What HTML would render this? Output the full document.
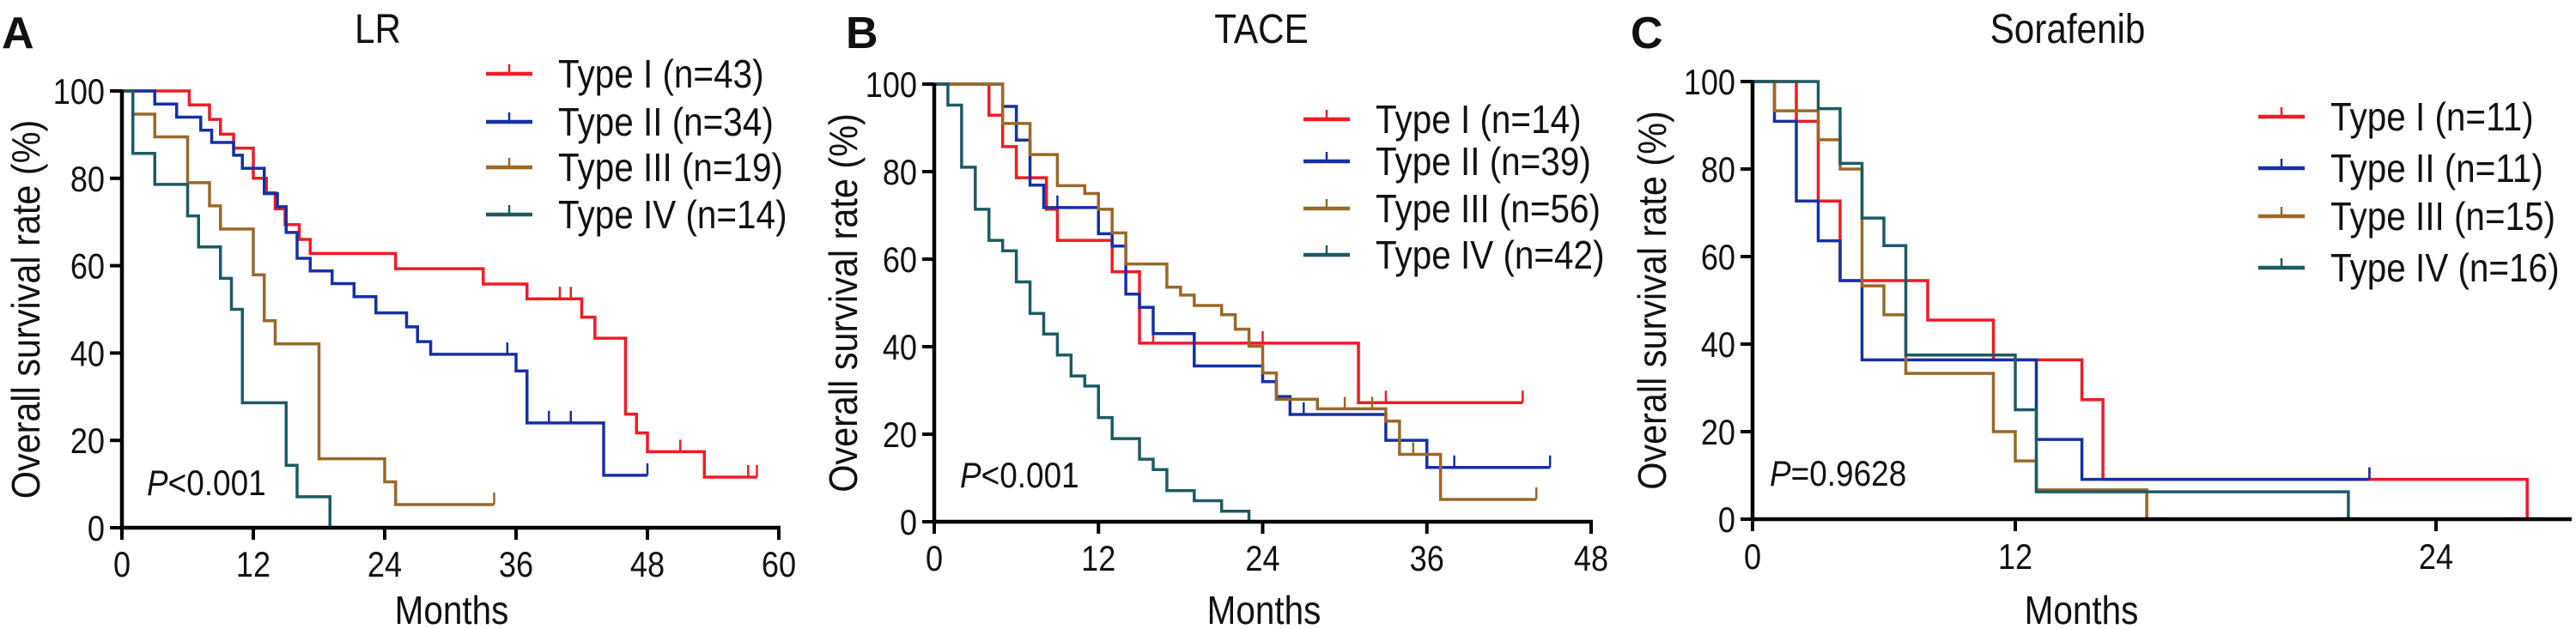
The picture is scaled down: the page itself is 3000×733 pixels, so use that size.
<!DOCTYPE html>
<html><head><meta charset="utf-8"><style>html,body{margin:0;padding:0;background:#fff}svg{display:block}text{font-family:"Liberation Sans",Arial,sans-serif;fill:#111}</style></head>
<body>
<svg id="fig" width="3000" height="733" viewBox="0 0 3000 733" xmlns="http://www.w3.org/2000/svg"></svg>
<script>
// ---- data ----
const yTicks=[0,20,40,60,80,100];
const xTicksA=[0,12,24,36,48,60];
const xTicksB=[0,12,24,36,48];
const xTicksC=[0,12,24];
const legendA=["Type I (n=43)","Type II (n=34)","Type III (n=19)","Type IV (n=14)"];
const legendB=["Type I (n=14)","Type II (n=39)","Type III (n=56)","Type IV (n=42)"];
const legendC=["Type I (n=11)","Type II (n=11)","Type III (n=15)","Type IV (n=16)"];
// Panel A (LR)
const A1_t=[0,6.15,8,9,10.2,12,13.2,14,14.9,16.2,17.2,25,33,37,42,43.2,46,47,48,53.2,58];
const A1_s=[100,96.8,93.5,90.1,86.9,80,76.7,73,69.4,66,62.8,59.3,55.8,52.4,48.2,43.4,26,21.7,17.4,11.6,11.6];
const A1_c=[40,41,51,57.2,58];
const A2_t=[0,3,5,7.2,8.2,10.2,11,13,14.2,15,16,17.2,19.2,21.2,23.2,26,27,28.2,36,37,44,48];
const A2_s=[100,97,94,91,88.2,85.3,82.3,76.5,73.5,67.6,61.7,58.8,55.9,52.9,49.2,46,42.6,39.7,35.9,24,12,12];
const A2_c=[35.2,39,41,48];
const A3_t=[0,1,3,6,8,9,12,13,14,18,24,25,34];
const A3_s=[100,94.7,89.5,79,73.7,68.4,57.9,47.4,42.1,15.8,10.5,5.3,5.3];
const A3_c=[34];
const A4_t=[0,1,3,6,7,9,10,11,15,16,19];
const A4_s=[100,85.7,78.6,71.4,64.3,57.1,50,28.6,14.3,7.1,0];
const A4_c=[];
// Panel B (TACE)
const B1_t=[0,4,5,6,8.2,9,13,15,31,43];
const B1_s=[100,92.9,85.7,78.6,71.4,64.3,57.1,40.8,27.2,27.2];
const B1_c=[16,24,33,43];
const B2_t=[0,5,6,7,8,12,13,14,15,16,19,24,25,26,33,36,45];
const B2_s=[100,94.9,87.2,76.9,71.8,65.8,63,52,49,43,35.6,32,28.6,24.5,18.6,12.4,12.4];
const B2_c=[9,27,38,45];
const B3_t=[0,5,7,9,11,12,13,14,17,18,19,21,22,23,24,25,28,33,34,37,44];
const B3_s=[100,91,83.9,76.8,75,71.4,66,58.9,53.6,51.8,49.4,47.3,44,40.1,34,28,25.8,23,15.4,5.1,5.1];
const B3_c=[30,32,35,44];
const B4_t=[0,1,2,3,4,5,6,7,8,9,10,11,12,13,15,16,17,19,21,23];
const B4_s=[100,95.2,81,71.4,64.3,61.9,54.8,47.6,42.9,38.1,33.3,31,23.8,19,14.3,11.9,7.1,4.8,2.4,0];
const B4_c=[];
// Panel C (Sorafenib)
const C1_t=[0,2,3,4,8,11,13.9,14.5,26.6];
const C1_s=[100,90.9,72.7,54.5,45.5,36.4,27.3,9.1,0];
const C1_c=[22.1];
const C2_t=[0,1,2,3,4,5,12.6,13.9,22.1];
const C2_s=[100,90.9,72.7,63.6,54.5,36.4,18.2,9.1,9.1];
const C2_c=[22.1];
const C3_t=[0,1,3,4,5,6,7,11,12,12.6,15.75];
const C3_s=[100,93.3,86.7,80,53.3,46.7,33.3,20,13.3,6.7,0];
const C3_c=[];
const C4_t=[0,3,4,5,6,7,12,12.6,21.5];
const C4_s=[100,93.8,81.3,68.8,62.5,37.5,25,6.25,0];
const C4_c=[];

// ---- drawing ----
const NS="http://www.w3.org/2000/svg";
const svg=document.getElementById('fig');
const COLORS=["#ee1c25","#1630a4","#9a6828","#1d5b63"];
function mk(tag,attrs,parent){const e=document.createElementNS(NS,tag);for(const k in attrs)e.setAttribute(k,attrs[k]);(parent||svg).appendChild(e);return e;}
function txt(str,x,y,size,anchor,sx,name,extra){
  const e=mk('text',{transform:`translate(${x},${y}) scale(${sx},1)`,'font-size':size,'text-anchor':anchor});
  
  
  if(extra)for(const k in extra)e.setAttribute(k,extra[k]);
  e.textContent=str;return e;}
function lin(d0,d1,r0,r1){return v=>r0+(v-d0)*(r1-r0)/(d1-d0);}
function piece(dom,rng){return v=>{let i=0;while(i<dom.length-2&&v>dom[i+1])i++;return rng[i]+(v-dom[i])*(rng[i+1]-rng[i])/(dom[i+1]-dom[i]);};}
function stepAt(t,s,c){let v=s[0];for(let i=0;i<t.length;i++){if(t[i]<=c)v=s[i];}return v;}

function panel(p){
  const g=mk('g',{});
  
  
  const X=p.x, Y=p.y;
  const x0=X(0), y0=Y(0), y100=Y(100);
  txt(p.letter,p.letterX,56,52,'start',1,'panel-letter-'+p.id,{'font-weight':'bold'});
  txt(p.title,p.titleX,50,48,'middle',0.88,'panel-title-'+p.id);
  p.series.forEach((sr,i)=>{
    let d=`M${X(sr.t[0])},${Y(sr.s[0])}`;
    for(let k=1;k<sr.t.length;k++){d+=` H${X(sr.t[k])} V${Y(sr.s[k])}`;}
    const path=mk('path',{d:d,fill:'none',stroke:COLORS[i],'stroke-width':3.5,'stroke-linejoin':'miter'},g);
    
    
    sr.c.forEach(ct=>{
      const cx=X(ct), cy=Y(stepAt(sr.t,sr.s,ct));
      const ln=mk('line',{x1:cx,x2:cx,y1:cy,y2:cy-14,stroke:COLORS[i],'stroke-width':2.5},g);
      
      
    });
  });
  const ya=mk('line',{x1:x0,x2:x0,y1:y100-1,y2:y0+2,stroke:'#000','stroke-width':4.5},g);
  
  
  const xa=mk('line',{x1:x0-2,x2:p.xEnd,y1:y0,y2:y0,stroke:'#000','stroke-width':4.5},g);
  
  
  yTicks.forEach(v=>{
    const yy=Y(v);
    const tk=mk('line',{x1:x0-14,x2:x0,y1:yy,y2:yy,stroke:'#000','stroke-width':4},g);
    
    
    txt(String(v),x0-20,yy+15,42,'end',0.86,'y-tick-label');
  });
  p.xTicks.forEach(v=>{
    const xx=X(v);
    const tk=mk('line',{x1:xx,x2:xx,y1:y0,y2:y0+14,stroke:'#000','stroke-width':4},g);
    
    
    txt(String(v),xx,p.xLabY,42,'middle',0.86,'x-tick-label');
  });
  txt('Months',p.monthsX,727,46,'middle',0.88,'x-axis-title-'+p.id);
  const yt=txt('Overall survival rate (%)',0,0,46,'middle',0.9,'y-axis-title-'+p.id);
  yt.setAttribute('transform',`translate(${p.ytX},${(y0+y100)/2}) rotate(-90) scale(0.9,1)`);
  const pv=txt('',p.pX,p.pY,42,'start',0.88,'p-value-'+p.id);
  const it=document.createElementNS(NS,'tspan');it.setAttribute('font-style','italic');it.textContent='P';pv.appendChild(it);
  pv.appendChild(document.createTextNode(p.pText));
  p.legend.forEach((lab,i)=>{
    const ly=p.legY[i];
    const l=mk('line',{x1:p.legX,x2:p.legX+54,y1:ly,y2:ly,stroke:COLORS[i],'stroke-width':4.5},g);
    
    
    const tk=mk('line',{x1:p.legX+27,x2:p.legX+27,y1:ly,y2:ly-11,stroke:COLORS[i],'stroke-width':2.5},g);
    
    
    txt(lab,p.legX+84,ly+16,46,'start',0.88,'legend-entry-type-'+(i+1));
  });
}

panel({id:'a',letter:'A',letterX:2,title:'LR',titleX:440,
  x:lin(0,60,142,907),y:lin(0,100,615,106),xEnd:909,xTicks:xTicksA,xLabY:672,monthsX:526,ytX:46,
  pX:171,pY:577,pText:'<0.001',legend:legendA,legX:566,legY:[86,142,195,250],
  series:[{t:A1_t,s:A1_s,c:A1_c},{t:A2_t,s:A2_s,c:A2_c},{t:A3_t,s:A3_s,c:A3_c},{t:A4_t,s:A4_s,c:A4_c}]});
panel({id:'b',letter:'B',letterX:985,title:'TACE',titleX:1469,
  x:lin(0,48,1088,1853),y:lin(0,100,608,98),xEnd:1855,xTicks:xTicksB,xLabY:665,monthsX:1472,ytX:998,
  pX:1118,pY:568,pText:'<0.001',legend:legendB,legX:1518,legY:[139,188,243,297],
  series:[{t:B1_t,s:B1_s,c:B1_c},{t:B2_t,s:B2_s,c:B2_c},{t:B3_t,s:B3_s,c:B3_c},{t:B4_t,s:B4_s,c:B4_c}]});
panel({id:'c',letter:'C',letterX:1899,title:'Sorafenib',titleX:2408,
  x:piece([0,12,24,30],[2041,2347,2837,3082]),y:lin(0,100,605,95),xEnd:2995,xTicks:xTicksC,xLabY:663,monthsX:2424,ytX:1940,
  pX:2061,pY:566,pText:'=0.9628',legend:legendC,legX:2630,legY:[136,196,252,312],
  series:[{t:C1_t,s:C1_s,c:C1_c},{t:C2_t,s:C2_s,c:C2_c},{t:C3_t,s:C3_s,c:C3_c},{t:C4_t,s:C4_s,c:C4_c}]});
</script>
</body></html>
